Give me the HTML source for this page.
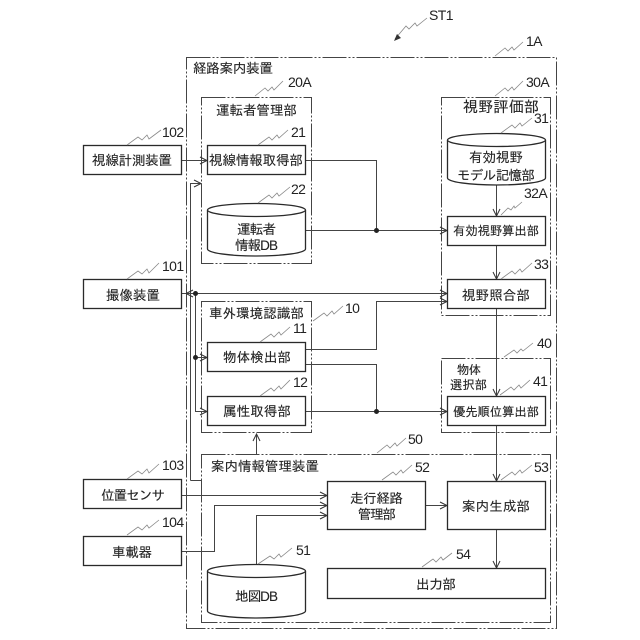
<!DOCTYPE html>
<html lang="ja">
<head>
<meta charset="utf-8">
<style>
html,body{margin:0;padding:0;background:#fff;}
svg{display:block;}
text{font-family:"Liberation Sans","IPAGothic","Noto Sans CJK JP",sans-serif;font-size:13.5px;fill:#222;stroke:#222;stroke-width:.12;}
.n{font-size:14px;letter-spacing:-.6px;fill:#222;stroke:none;}
.s{font-size:12.300px;}
.w{font-size:15px;}
.b{fill:#fff;stroke:#2a2a2a;stroke-width:1.3;}
.g{fill:none;stroke:#444;stroke-width:1;stroke-dasharray:24 2 2 2 2 2;}
.l{fill:none;stroke:#444;stroke-width:1;}
.z{fill:none;stroke:#888;stroke-width:.8;}
</style>
</head>
<body>
<svg width="640" height="640" viewBox="0 0 640 640" xmlns="http://www.w3.org/2000/svg">
<defs>
<marker id="a" markerUnits="userSpaceOnUse" markerWidth="10" markerHeight="10" refX="8" refY="4" orient="auto">
<path d="M1 .5 L8 4 L1 7.5" fill="none" stroke="#333" stroke-width="1"/>
</marker>
</defs>
<rect width="640" height="640" fill="#fff"/>

<!-- group frames -->
<rect class="g" x="186.500" y="57.500" width="370" height="571"/>
<rect class="g" x="201.500" y="97.500" width="110" height="166"/>
<rect class="g" x="441.500" y="97.500" width="109" height="218"/>
<rect class="g" x="201.500" y="301.500" width="110" height="131"/>
<rect class="g" x="441.500" y="358.500" width="109" height="74"/>
<rect class="g" x="201.500" y="454.500" width="349" height="168"/>

<!-- connectors -->
<path class="l" marker-end="url(#a)" d="M182 160.500H207"/>
<path class="l" d="M305 160.500H376.500V230.500"/>
<path class="l" marker-end="url(#a)" d="M305 230.500H447"/>
<path class="l" marker-end="url(#a)" d="M190.500 480.500V183.500H201"/>
<path class="l" d="M190.500 480.500H201"/>
<path class="l" marker-end="url(#a)" d="M195 293.500H447"/>
<path class="l" marker-end="url(#a)" d="M195 293.500H186"/>
<path class="l" d="M186 293.500H182"/>
<path class="l" stroke-width="1.300" marker-end="url(#a)" d="M195.500 293.500V411.500H207"/>
<path class="l" marker-end="url(#a)" d="M195.500 357.500H207"/>
<path class="l" marker-end="url(#a)" d="M305 349.500H376.500V301.500H447"/>
<path class="l" d="M305 364.500H376.500V411.500"/>
<path class="l" marker-end="url(#a)" d="M305 411.500H447"/>
<path class="l" marker-end="url(#a)" d="M496.500 185V216"/>
<path class="l" marker-end="url(#a)" d="M496.500 245V279"/>
<path class="l" marker-end="url(#a)" d="M496.500 309V396"/>
<path class="l" marker-end="url(#a)" d="M496.500 425V481"/>
<path class="l" marker-end="url(#a)" d="M496.500 529V568"/>
<path class="l" marker-end="url(#a)" d="M256.500 454V434"/>
<path class="l" marker-end="url(#a)" d="M182 495.500H327"/>
<path class="l" marker-end="url(#a)" d="M182 551.500H214.500V505.500H327"/>
<path class="l" marker-end="url(#a)" d="M256.500 564V515.500H327"/>
<path class="l" stroke-width="1.300" marker-end="url(#a)" d="M425 505.500H447"/>
<circle cx="376.500" cy="230.500" r="2.500" fill="#222"/>
<circle cx="195.500" cy="293.500" r="2.500" fill="#222"/>
<circle cx="195.500" cy="357.500" r="2.500" fill="#222"/>
<circle cx="376.500" cy="411.500" r="2.500" fill="#222"/>

<!-- boxes -->
<rect class="b" x="83.500" y="145.500" width="98" height="29"/>
<rect class="b" x="83.500" y="279.500" width="98" height="29"/>
<rect class="b" x="83.500" y="479.500" width="98" height="29"/>
<rect class="b" x="83.500" y="536.500" width="98" height="29"/>
<rect class="b" x="207.500" y="145.500" width="98" height="29"/>
<rect class="b" x="207.500" y="342.500" width="98" height="29"/>
<rect class="b" x="207.500" y="396.500" width="98" height="29"/>
<rect class="b" x="447.500" y="216.500" width="98" height="29"/>
<rect class="b" x="447.500" y="279.500" width="98" height="29"/>
<rect class="b" x="447.500" y="396.500" width="98" height="29"/>
<rect class="b" x="327.500" y="481.500" width="98" height="48"/>
<rect class="b" x="447.500" y="481.500" width="98" height="48"/>
<rect class="b" x="327.500" y="568.500" width="218" height="30"/>

<!-- cylinders -->
<path class="b" d="M207.500 210V249A49 7 0 0 0 305.500 249V210"/>
<ellipse class="b" cx="256.500" cy="210" rx="49" ry="6.500"/>
<path class="b" d="M447.500 140V178A49 7 0 0 0 545.500 178V140"/>
<ellipse class="b" cx="496.500" cy="140" rx="49" ry="6.500"/>
<path class="b" d="M207.500 571V611A49 7 0 0 0 305.500 611V571"/>
<ellipse class="b" cx="256.500" cy="571" rx="49" ry="6.500"/>

<!-- leaders -->
<path class="z" d="M127 145l11-8 4 3 5-5 2 4 12-9"/>
<path class="z" d="M255 96l10-8 3 3 4-4 2 3 9-9"/>
<path class="z" d="M258 145l11-8 3 3 5-5 2 3 9-8"/>
<path class="z" d="M258 203l11-8 3 3 5-5 2 3 11-9"/>
<path class="z" d="M427 18l-10 8-2-3-6 6-3-3-11 13"/>
<path d="M394 41l3-7 4 4z" fill="#333"/>
<path class="z" d="M495 56l10-8 3 3 4-4 2 3 9-8"/>
<path class="z" d="M495 96l10-8 3 3 4-4 2 3 9-9"/>
<path class="z" d="M501 133l11-8 3 3 5-5 2 3 10-8"/>
<path class="z" d="M501 215l7-7 3 2 3-4 1 2 7-6"/>
<path class="z" d="M501 279l11-8 3 3 5-5 2 3 10-9"/>
<path class="z" d="M313 321l11-8 3 3 5-5 2 3 9-8"/>
<path class="z" d="M260 342l11-8 3 3 5-5 2 3 9-8"/>
<path class="z" d="M260 396l11-8 3 3 5-5 2 3 9-9"/>
<path class="z" d="M127 279l11-8 4 3 5-5 2 4 10-10"/>
<path class="z" d="M504 357l10-7 3 3 4-4 2 2 10-8"/>
<path class="z" d="M500 395l11-8 3 3 5-5 2 3 9-8"/>
<path class="z" d="M377 453l10-8 3 3 5-5 2 3 9-8"/>
<path class="z" d="M382 480l11-8 3 3 5-5 2 3 9-8"/>
<path class="z" d="M501 480l11-8 3 3 5-5 2 3 10-8"/>
<path class="z" d="M422 567l11-8 3 3 5-5 2 3 9-7"/>
<path class="z" d="M127 479l11-8 4 3 5-5 2 4 10-9"/>
<path class="z" d="M127 535l11-8 4 3 5-5 2 3 10-8"/>
<path class="z" d="M258 564l12-8 4 3 5-5 2 3 11-9"/>

<!-- numerals -->
<text class="n" x="429" y="20">ST1</text>
<text class="n" x="526" y="46">1A</text>
<text class="n" x="288" y="87">20A</text>
<text class="n" x="526" y="87">30A</text>
<text class="n" x="162" y="137">102</text>
<text class="n" x="291" y="137">21</text>
<text class="n" x="291" y="194">22</text>
<text class="n" x="534" y="123">31</text>
<text class="n" x="524" y="198">32A</text>
<text class="n" x="534" y="269">33</text>
<text class="n" x="162" y="271">101</text>
<text class="n" x="345" y="313">10</text>
<text class="n" x="293" y="333">11</text>
<text class="n" x="537" y="348">40</text>
<text class="n" x="293" y="387">12</text>
<text class="n" x="533" y="386">41</text>
<text class="n" x="408" y="444">50</text>
<text class="n" x="162" y="470">103</text>
<text class="n" x="415" y="472">52</text>
<text class="n" x="534" y="472">53</text>
<text class="n" x="162" y="527">104</text>
<text class="n" x="296" y="555">51</text>
<text class="n" x="456" y="559">54</text>

<!-- labels -->
<text x="193" y="73" textLength="80" lengthAdjust="spacing">経路案内装置</text>
<text x="216" y="115" textLength="81" lengthAdjust="spacing">運転者管理部</text>
<text class="w" x="463" y="112" textLength="76" lengthAdjust="spacing">視野評価部</text>
<text x="92" y="165" textLength="80" lengthAdjust="spacing">視線計測装置</text>
<text x="209" y="165" textLength="94" lengthAdjust="spacing">視線情報取得部</text>
<text x="469" y="162" textLength="54" lengthAdjust="spacing">有効視野</text>
<text x="457" y="180" textLength="78" lengthAdjust="spacing">モデル記憶部</text>
<text x="237" y="234" textLength="39" lengthAdjust="spacing">運転者</text>
<text x="235" y="250" textLength="43" lengthAdjust="spacing">情報DB</text>
<text class="s" x="453" y="235" textLength="86" lengthAdjust="spacing">有効視野算出部</text>
<text x="106" y="300" textLength="54" lengthAdjust="spacing">撮像装置</text>
<text x="462" y="300" textLength="68" lengthAdjust="spacing">視野照合部</text>
<text x="209" y="318" textLength="95" lengthAdjust="spacing">車外環境認識部</text>
<text x="223" y="362" textLength="68" lengthAdjust="spacing">物体検出部</text>
<text class="s" x="457" y="374" textLength="24" lengthAdjust="spacing">物体</text>
<text class="s" x="450" y="389" textLength="37" lengthAdjust="spacing">選択部</text>
<text x="223" y="416" textLength="68" lengthAdjust="spacing">属性取得部</text>
<text class="s" x="453" y="416" textLength="86" lengthAdjust="spacing">優先順位算出部</text>
<text x="211" y="471" textLength="108" lengthAdjust="spacing">案内情報管理装置</text>
<text x="101" y="500" textLength="64" lengthAdjust="spacing">位置センサ</text>
<text x="350" y="503" textLength="53" lengthAdjust="spacing">走行経路</text>
<text x="358" y="519" textLength="38" lengthAdjust="spacing">管理部</text>
<text x="462" y="511" textLength="68" lengthAdjust="spacing">案内生成部</text>
<text x="112" y="557" textLength="40" lengthAdjust="spacing">車載器</text>
<text x="416" y="589" textLength="40" lengthAdjust="spacing">出力部</text>
<text x="235" y="601" textLength="43" lengthAdjust="spacing">地図DB</text>
</svg>
</body>
</html>
